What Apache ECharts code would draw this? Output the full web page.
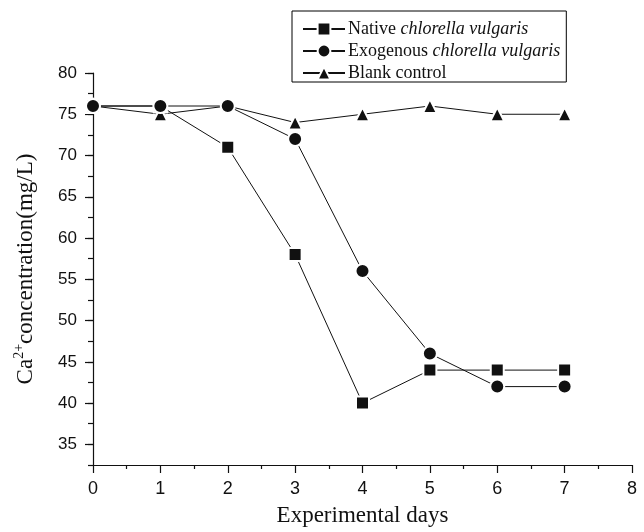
<!DOCTYPE html>
<html>
<head>
<meta charset="utf-8">
<style>html,body{margin:0;padding:0;background:#fff}#c{width:644px;height:532px}</style>
<script src="https://cdn.jsdelivr.net/npm/echarts@6/dist/echarts.min.js"></script>
</head>
<body>
<div id="c"></div>
<script>
var days = [0, 1, 2, 3, 4, 5, 6, 7];
var nativeVals = [76, 76, 71, 58, 40, 44, 44, 44];
var exoVals = [76, 76, 76, 72, 56, 46, 42, 42];
var blankVals = [76, 75, 76, 74, 75, 76, 75, 75];
var yLabels = [35, 40, 45, 50, 55, 60, 65, 70, 75, 80];
var seriesNames = ['Native chlorella vulgaris', 'Exogenous chlorella vulgaris', 'Blank control'];

function pairs(v) { return days.map(function (d, i) { return [d, v[i]]; }); }

var serif = '"Liberation Serif", "Times New Roman", serif';
var sans = '"Liberation Sans", Arial, sans-serif';
var ink = '#111';

function mk(name, data, symbol, size) {
  return {
    name: name, type: 'line', data: pairs(data),
    symbol: symbol, symbolSize: size,
    lineStyle: { color: ink, width: 1 },
    itemStyle: { color: ink, borderColor: '#fff', borderWidth: 2 },
    emphasis: { disabled: true },
    animation: false
  };
}

var chart = echarts.init(document.getElementById('c'), null, { renderer: 'canvas' });
chart.setOption({
  animation: false,
  grid: { left: 93, right: 12, top: 73, bottom: 64 },
  legend: {
    orient: 'vertical', left: 292, top: 11,
    padding: [9, 6, 0, 10], itemGap: 4,
    itemWidth: 42, itemHeight: 16,
    borderColor: '#000', borderWidth: 1,
    data: seriesNames,
    formatter: function (n) {
      if (n === seriesNames[0]) return 'Native {i|chlorella vulgaris}';
      if (n === seriesNames[1]) return 'Exogenous {i|chlorella vulgaris}';
      return n;
    },
    textStyle: {
      fontFamily: serif, fontSize: 18, color: ink, padding: [0, 0, 0, -2],
      rich: { i: { fontFamily: serif, fontSize: 18, fontStyle: 'italic', color: ink } }
    }
  },
  xAxis: {
    type: 'value', min: 0, max: 8, interval: 1,
    name: 'Experimental days', nameLocation: 'middle', nameGap: 39,
    nameTextStyle: { fontFamily: serif, fontSize: 23, color: ink },
    axisLine: { show: true, onZero: false, lineStyle: { color: ink, width: 1.2 } },
    axisTick: { show: true, length: 8, lineStyle: { color: ink, width: 1.2 } },
    minorTick: { show: true, splitNumber: 2, length: 4, lineStyle: { color: ink, width: 1.2 } },
    axisLabel: { fontFamily: sans, fontSize: 18, color: ink, margin: 15 },
    splitLine: { show: false }
  },
  yAxis: [{
    type: 'value', min: 32.5, max: 80, interval: 2.5,
    name: '{a|Ca}{s|2+}{a|concentration(mg/L)}', nameLocation: 'middle', nameGap: 53,
    nameTextStyle: {
      fontFamily: serif, fontSize: 23, color: ink,
      rich: {
        a: { fontFamily: serif, fontSize: 23, color: ink },
        s: { fontFamily: serif, fontSize: 14, color: ink, verticalAlign: 'bottom', padding: [0, 0, 14, 0] }
      }
    },
    axisLine: { show: true, onZero: false, lineStyle: { color: ink, width: 1.2 } },
    axisTick: { show: true, length: 8, customValues: yLabels, lineStyle: { color: ink, width: 1.2 } },
    axisLabel: { fontFamily: sans, fontSize: 17, color: ink, margin: 16, customValues: yLabels },
    splitLine: { show: false }
  }, {
    type: 'value', min: 32.5, max: 80, interval: 2.5, position: 'left',
    axisLine: { show: false },
    axisTick: { show: true, length: 5, lineStyle: { color: ink, width: 1.2 } },
    axisLabel: { show: false },
    splitLine: { show: false }
  }],
  series: [
    mk(seriesNames[2], blankVals, 'triangle', 14),
    mk(seriesNames[0], nativeVals, 'rect', 13),
    mk(seriesNames[1], exoVals, 'circle', 14)
  ]
});
</script>
</body>
</html>
